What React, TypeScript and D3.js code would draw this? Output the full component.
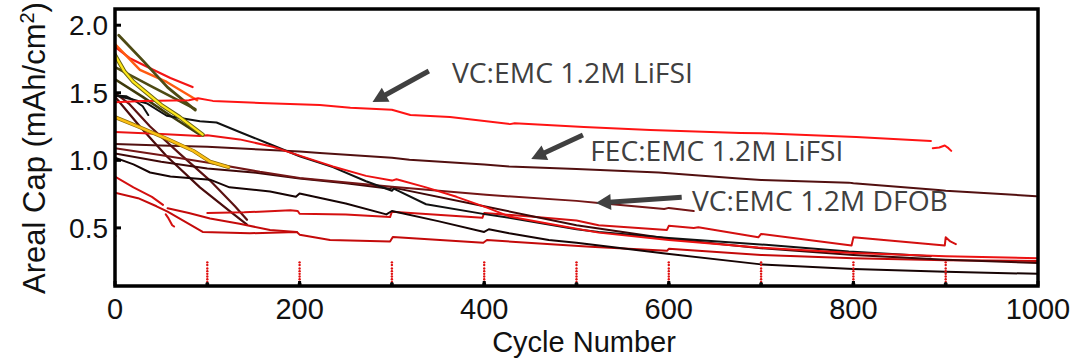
import React from "react";
import * as d3 from "d3";

type Pt = [number, number] | null;

// ---------- data (cycle number, areal capacity mAh/cm2); null = gap ----------
const xTicks = [0, 200, 400, 600, 800, 1000];
const yTicks = [0.5, 1.0, 1.5, 2.0];

const vcLifsi: Pt[] = [[0,1.43],[30,1.44],[80,1.445],[90,1.46],[106,1.44],[157,1.425],[222,1.41],[255,1.39],[300,1.375],[320,1.335],[363,1.32],[428,1.268],[433,1.275],[508,1.246],[580,1.224],[678,1.202],[700,1.2],[803,1.172],[884,1.143],null,[886,1.09],[893,1.095],[899,1.11],[903,1.09],[906,1.07]];
const fecLifsi: Pt[] = [[0,1.12],[50,1.11],[100,1.10],[157,1.08],[200,1.065],[222,1.055],[300,1.02],[319,1.005],[400,0.97],[427,0.955],[500,0.935],[589,0.91],[600,0.905],[676,0.865],[700,0.855],[795,0.835],[800,0.83],[892,0.78],[900,0.775],[998,0.735]];
const vcDfob: Pt[] = [[0,1.09],[49,1.04],[103,0.98],[157,0.915],[200,0.87],[300,0.805],[402,0.745],[500,0.70],[524,0.685],[595,0.64],[600,0.648],[627,0.625]];
const redCross: Pt[] = [[0,1.21],[50,1.195],[92,1.18],[100,1.185],[135,1.155],[171,1.10],[200,1.035],[236,0.955],[272,0.885],[300,0.85],[305,0.86],[337,0.80],[370,0.73],[403,0.65],[427,0.585],[470,0.53],[524,0.465],[600,0.41],[697,0.355],[800,0.315],[900,0.29],[1000,0.275]];
const blackLong: Pt[] = [[0,1.48],[19,1.45],[35,1.42],[56,1.33],[92,1.29],[110,1.28],[135,1.21],[164,1.13],[200,1.03],[236,0.95],[272,0.845],[300,0.775],[302,0.79],[337,0.675],[402,0.60],[427,0.575],[500,0.49],[524,0.47],[600,0.425],[705,0.375],[795,0.325],[884,0.29]];
const blackLow: Pt[] = [[0,1.02],[20,0.97],[38,0.91],[60,0.88],[103,0.857],[124,0.80],[168,0.77],[196,0.73],[200,0.755],[250,0.68],[294,0.60],[300,0.625],[350,0.55],[400,0.47],[405,0.49],[427,0.46],[470,0.41],[500,0.39],[596,0.31],[700,0.23],[800,0.195],[900,0.175],[1000,0.16]];
const maroonMid: Pt[] = [[0,1.05],[50,0.99],[100,0.94],[150,0.91],[200,0.865],[250,0.83],[298,0.79],[300,0.80],[400,0.66],[500,0.52],[600,0.42],[700,0.35],[800,0.30],[900,0.265],[1000,0.24]];
const redLow: Pt[] = [[0,0.76],[25,0.72],[45,0.66],[57,0.62],[80,0.53],[95,0.47],[146,0.46],[197,0.47],[200,0.45],[233,0.41],[298,0.40],[301,0.433],[399,0.39],[403,0.41],[515,0.36],[598,0.33],[600,0.345],[700,0.30],[800,0.275],[900,0.26],[1000,0.255]];
const redLowB: Pt[] = [[57,0.645],[80,0.61],[103,0.57],[135,0.53],[168,0.485],[197,0.47]];
const redMid: Pt[] = [[0,0.88],[20,0.80],[40,0.73],[52,0.67],null,[55,0.60],[58,0.57],[62,0.52],[64,0.51],null,[100,0.61],[140,0.615],[190,0.63],[198,0.625],[200,0.605],[250,0.60],[298,0.58],[300,0.62],[398,0.575],[400,0.61],[450,0.585],[500,0.555],[524,0.52],[598,0.485],[600,0.515],[627,0.50],[632,0.505],[697,0.43],[700,0.455],[798,0.37],[800,0.43],[899,0.37],[900,0.43],[905,0.40],[911,0.38]];
const earlyRed: Pt[] = [[0,1.84],[16,1.756],[38,1.682],[60,1.61],[84,1.542]];
const earlyOlive1: Pt[] = [[4,1.926],[30,1.74],[57,1.54],[87,1.372]];
const earlyOlive2: Pt[] = [[0,1.69],[41,1.542],[87,1.379]];
const earlyOrange: Pt[] = [[0,1.86],[27,1.67],[56,1.58],[89,1.445]];
const earlyYellow: Pt[] = [[0,1.78],[10,1.66],[20,1.58],[50,1.41],[70,1.32],[95,1.19]];
const earlyDarkOlive: Pt[] = [[0,1.6],[30,1.47],[60,1.33],[92,1.19]];
const earlyGold: Pt[] = [[0,1.32],[25,1.25],[56,1.16],[85,1.07],[103,0.99],[123,0.95]];
const steepA: Pt[] = [[0,1.47],[27,1.25],[56,1.03],[92,0.80],[125,0.62],[143,0.525]];
const steepB: Pt[] = [[0,1.50],[15,1.42],[38,1.25],[70,1.05],[103,0.85],[130,0.66],[143,0.56]];
const blackShort: Pt[] = [[0,1.48],[12,1.475],[24,1.43],[30,1.40],[36,1.335]];

const rptCycles = [100, 200, 300, 400, 500, 600, 700, 800, 900];
const rptCaps = [0.245, 0.225, 0.2, 0.18, 0.16, 0.14, 0.12, 0.1];

const annotations = [
  { text: "VC:EMC 1.2M LiFSI", at: [365, 1.572], tail: [340, 1.661], tip: [279, 1.432], len: 241 },
  { text: "FEC:EMC 1.2M LiFSI", at: [515, 0.995], tail: [507, 1.187], tip: [451, 1.01], len: 253 },
  { text: "VC:EMC 1.2M DFOB", at: [625, 0.625], tail: [614, 0.727], tip: [521, 0.684], len: 256 },
];

// ---------- styles ----------
const seriesList = [
  { data: earlyDarkOlive, color: "#3d3a0c", w: 2.6 },
  { data: earlyRed, color: "#f41515", w: 2.2 },
  { data: earlyOrange, color: "#ff5a10", w: 2.4 },
  { data: earlyOlive1, color: "#4d4a14", w: 2.8 },
  { data: earlyOlive2, color: "#4d4a14", w: 2.6 },
  { data: steepA, color: "#4a0c0c", w: 2.2 },
  { data: steepB, color: "#5c1212", w: 2.2 },
  { data: blackShort, color: "#111111", w: 2 },
  { data: redLow, color: "#c40a0a", w: 2 },
  { data: redLowB, color: "#c40a0a", w: 2 },
  { data: redMid, color: "#d41010", w: 2 },
  { data: maroonMid, color: "#3e0808", w: 2 },
  { data: blackLow, color: "#160404", w: 2 },
  { data: vcDfob, color: "#741616", w: 2 },
  { data: fecLifsi, color: "#521010", w: 2 },
  { data: blackLong, color: "#111111", w: 2 },
  { data: redCross, color: "#ec1212", w: 2 },
  { data: vcLifsi, color: "#ff1414", w: 2 },
  { data: earlyYellow, color: "#6a6410", w: 4.2 },
  { data: earlyYellow, color: "#ffe81a", w: 2.2 },
  { data: earlyGold, color: "#8a6a08", w: 3.8 },
  { data: earlyGold, color: "#fbbf14", w: 2.4 },
];

const W = 1075, H = 359;
const L = 115, R = 1038, T = 9, B = 286;

export default function App() {
  const x = d3.scaleLinear().domain([0, 1000]).range([L, R]);
  const y = d3.scaleLinear().domain([0.07, 2.12]).range([B, T]);
  const line = d3
    .line<Pt>()
    .defined((d) => d !== null)
    .x((d) => x((d as [number, number])[0]))
    .y((d) => y((d as [number, number])[1]));

  const tickFont = "'Liberation Sans', Arial, Helvetica, sans-serif";
  const noteFont = "'Open Sans', 'Noto Sans', sans-serif";

  const arrow = (tail: number[], tip: number[], key: string) => {
    const x1 = x(tail[0]), y1 = y(tail[1]), x2 = x(tip[0]), y2 = y(tip[1]);
    const ang = Math.atan2(y2 - y1, x2 - x1);
    const hl = 15, hw = 8;
    const bx = x2 - hl * Math.cos(ang), by = y2 - hl * Math.sin(ang);
    const px = -Math.sin(ang), py = Math.cos(ang);
    return (
      <g key={key}>
        <line x1={x1} y1={y1} x2={bx + 2 * Math.cos(ang)} y2={by + 2 * Math.sin(ang)} stroke="#404040" strokeWidth={5} />
        <polygon
          points={`${x2},${y2} ${bx + hw * px},${by + hw * py} ${bx - hw * px},${by - hw * py}`}
          fill="#404040"
        />
      </g>
    );
  };

  return (
    <svg width={W} height={H} style={{ position: "absolute", left: 0, top: 0, background: "#fff" }}>
      <rect x={0} y={0} width={W} height={H} fill="#fff" />
      <clipPath id="plot">
        <rect x={L} y={T} width={R - L} height={B - T} />
      </clipPath>
      <g clipPath="url(#plot)">
        {seriesList.map((s, i) => (
          <path key={i} d={line(s.data) || ""} fill="none" stroke={s.color} strokeWidth={s.w} strokeLinejoin="round" strokeLinecap="round" />
        ))}
        {rptCycles.map((c) =>
          rptCaps.map((v, j) => (
            <circle key={`${c}-${j}`} cx={x(c)} cy={y(v)} r={1.2} fill="#e01010" />
          ))
        )}
        {rptCycles.map((c) => (
          <circle key={`b${c}`} cx={x(c)} cy={y(0.085)} r={2} fill="#111" />
        ))}
        <circle cx={x(0)} cy={y(0.44)} r={1.5} fill="#e01010" />
      </g>
      {/* frame */}
      <rect x={L} y={T} width={R - L} height={B - T} fill="none" stroke="#000" strokeWidth={3.5} />
      {yTicks.map((t) => (
        <g key={t}>
          <line x1={L} x2={L + 6} y1={y(t)} y2={y(t)} stroke="#000" strokeWidth={3} />
          <text x={L - 7} y={y(t)} dy="0.36em" textAnchor="end" fontFamily={tickFont} fontSize={28} fill="#111">
            {t.toFixed(1)}
          </text>
        </g>
      ))}
      {xTicks.map((t) => (
        <g key={t}>
          <line x1={x(t)} x2={x(t)} y1={B} y2={B - 5} stroke="#000" strokeWidth={3} />
          <text x={x(t)} y={319} textAnchor="middle" fontFamily={tickFont} fontSize={29} fill="#111">
            {t}
          </text>
        </g>
      ))}
      <text x={584} y={352} textAnchor="middle" fontFamily={tickFont} fontSize={29} fill="#111">
        Cycle Number
      </text>
      <text transform="translate(45,148) rotate(-90)" textAnchor="middle" fontFamily={tickFont} fontSize={31} fill="#111">
        Areal Cap (mAh/cm<tspan dy="-11" fontSize={20}>2</tspan><tspan dy="11">)</tspan>
      </text>
      {annotations.map((a, i) => (
        <g key={a.text}>
          {arrow(a.tail, a.tip, "ar" + i)}
          <text x={x(a.at[0])} y={y(a.at[1])} fontFamily={noteFont} fontSize={27} fill="#404040" textLength={a.len} lengthAdjust="spacingAndGlyphs">
            {a.text}
          </text>
        </g>
      ))}
    </svg>
  );
}
